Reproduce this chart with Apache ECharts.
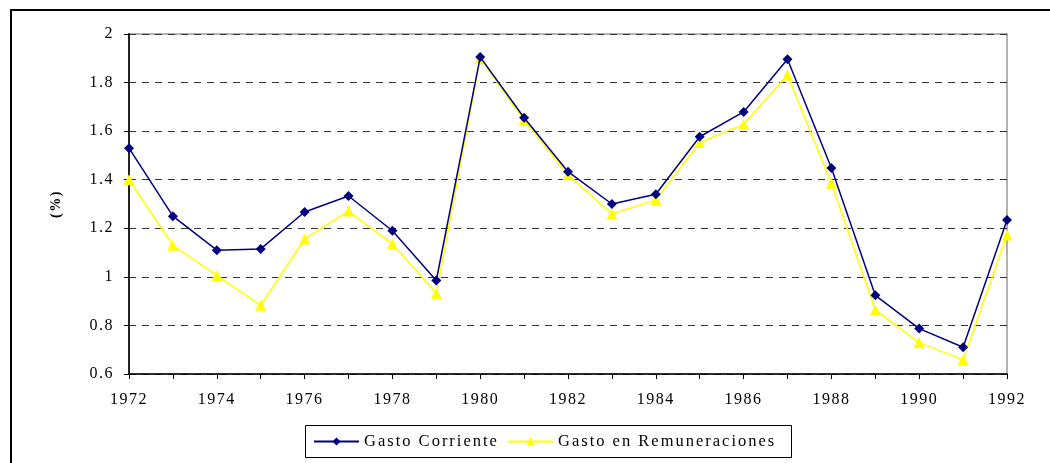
<!DOCTYPE html>
<html>
<head>
<meta charset="utf-8">
<script src="https://cdn.jsdelivr.net/npm/echarts@6/dist/echarts.min.js"></script>
<style>
html,body{margin:0;padding:0;background:#fff;}
#chart{width:1050px;height:463px;}
</style>
</head>
<body>
<div id="chart"></div>
<script>
var years = ['1972','1973','1974','1975','1976','1977','1978','1979','1980','1981','1982','1983','1984','1985','1986','1987','1988','1989','1990','1991','1992'];
var gastoCorriente = [1.53,1.25,1.11,1.115,1.267,1.333,1.19,0.985,1.905,1.655,1.433,1.30,1.34,1.577,1.679,1.896,1.448,0.924,0.787,0.71,1.234];
var gastoRemuneraciones = [1.40,1.13,1.006,0.883,1.156,1.271,1.135,0.932,1.90,1.646,1.42,1.259,1.317,1.553,1.628,1.831,1.385,0.864,0.729,0.658,1.172];
var yTicks = {min:0.6, max:2, interval:0.2};
var seriesNames = ['Gasto Corriente','Gasto en Remuneraciones'];

// widen the letter spacing of drawn text, as in the original document
(function(){
  var proto = CanvasRenderingContext2D.prototype;
  var origFill = proto.fillText;
  proto.fillText = function(){
    if ('letterSpacing' in this) {
      this.letterSpacing = /16\.5px/.test(this.font) ? '2px' : '1.5px';
    }
    return origFill.apply(this, arguments);
  };
})();

var chart = echarts.init(document.getElementById('chart'), null, {renderer:'canvas'});
var font = '"Liberation Serif","Times New Roman",serif';
var legendText = {fontFamily:font, fontSize:16.5, color:'#000'};
chart.setOption({
  animation:false,
  backgroundColor:'#fff',
  textStyle:{fontFamily:font},
  graphic:[
    {type:'rect', shape:{x:11, y:10, width:1200, height:600},
     style:{fill:'none', stroke:'#000', lineWidth:2}, z:-1},
    {type:'rect', shape:{x:305.5, y:425.5, width:486, height:32},
     style:{fill:'none', stroke:'#000', lineWidth:1}, z:-1}
  ],
  grid:{left:129, right:43, top:34, bottom:89, show:true, borderColor:'#999', borderWidth:1.5, backgroundColor:'transparent'},
  legend:[
    {left:313, top:433, data:[seriesNames[0]], itemWidth:45, itemHeight:10, itemGap:0, padding:0,
     textStyle:legendText},
    {left:507, top:433, data:[seriesNames[1]], itemWidth:45, itemHeight:10, itemGap:0, padding:0,
     textStyle:legendText}
  ],
  xAxis:{
    type:'category', data:years, boundaryGap:false,
    axisLine:{lineStyle:{color:'#000', width:1.5}},
    axisTick:{interval:0, length:5, lineStyle:{color:'#000'}},
    axisLabel:{interval:1, fontFamily:font, fontSize:16, color:'#000', margin:18},
    splitLine:{show:false}
  },
  yAxis:{
    type:'value', min:yTicks.min, max:yTicks.max, interval:yTicks.interval,
    name:'(%)', nameLocation:'middle', nameGap:66, nameRotate:90,
    nameTextStyle:{fontFamily:font, fontSize:14, fontWeight:'bold', color:'#000'},
    axisLine:{show:true, lineStyle:{color:'#222', width:2}},
    axisTick:{show:true, length:5, lineStyle:{color:'#000'}},
    axisLabel:{fontFamily:font, fontSize:16, color:'#000', margin:15},
    splitLine:{show:true, lineStyle:{color:'#333', type:[7,6], width:1}}
  },
  series:[
    {name:seriesNames[0], type:'line', data:gastoCorriente, symbol:'diamond', symbolSize:10,
     itemStyle:{color:'#000080'}, lineStyle:{color:'#000080', width:1.5}, z:3},
    {name:seriesNames[1], type:'line', data:gastoRemuneraciones, symbol:'triangle', symbolSize:11,
     itemStyle:{color:'#FFFF00'}, lineStyle:{color:'#FFFF00', width:1.5}, z:2}
  ]
});
</script>
</body>
</html>
